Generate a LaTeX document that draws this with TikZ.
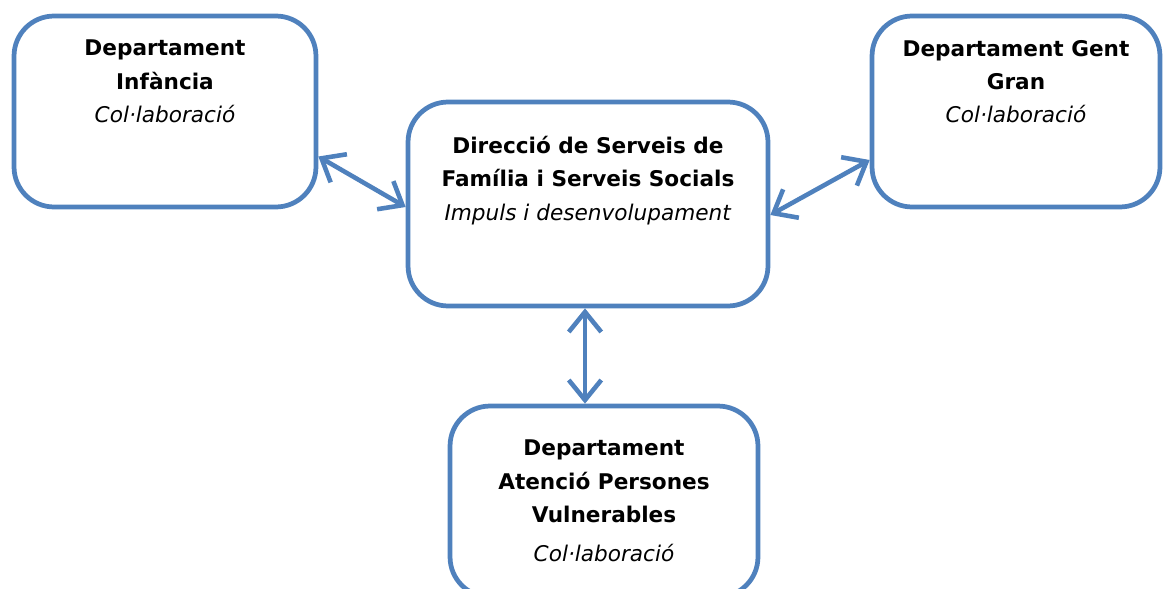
\documentclass[tikz,border=0pt]{standalone}
\usepackage{fontspec}
\setmainfont{DejaVu Sans}
\usetikzlibrary{arrows.meta}
\definecolor{boxblue}{RGB}{79,129,189}

\begin{document}
\begin{tikzpicture}[x=0.02cm, y=-0.02cm,
	deptbox/.style={draw=boxblue, line width=2.7pt, rounded corners=0.8cm, fill=white},
	deptlabel/.style={anchor=north, align=center, inner sep=0pt, font=\fontsize{12.3}{19}\selectfont},
	link/.style={draw=boxblue, line width=2.6pt, {Straight Barb[length=4mm,width=6.5mm]}-{Straight Barb[length=4mm,width=6.5mm]}}]
	\useasboundingbox (0,0) rectangle (1165,588);
	% boxes
	\node[deptbox, minimum width=6.04cm, minimum height=3.82cm] (infancia) at (165,111.5) {};
	\node[deptbox, minimum width=7.2cm, minimum height=4.08cm] (direccio) at (588,204) {};
	\node[deptbox, minimum width=5.76cm, minimum height=3.82cm] (gentgran) at (1016,111.5) {};
	\node[deptbox, minimum width=6.16cm, minimum height=3.82cm] (vulnerables) at (604,501.5) {};
	% texts
	\node[deptlabel] (infancia-text) at ([yshift=-0.52cm]infancia.north) {\textbf{Departament}\\\textbf{Infància}\\\textit{Col·laboració}};
	\node[deptlabel] (direccio-text) at ([yshift=-0.72cm]direccio.north) {\textbf{Direcció de Serveis de}\\\textbf{Família i Serveis Socials}\\\textit{Impuls i desenvolupament}};
	\node[deptlabel] (gentgran-text) at ([yshift=-0.52cm]gentgran.north) {\textbf{Departament Gent}\\\textbf{Gran}\\\textit{Col·laboració}};
	\node[deptlabel] (vulnerables-text) at ([yshift=-0.72cm]vulnerables.north) {\textbf{Departament}\\\textbf{Atenció Persones}\\\textbf{Vulnerables}\\[3pt]\textit{Col·laboració}};
	% connectors
	\draw[link] ([yshift=-0.9cm]infancia.east) -- ([yshift=-0.06cm]direccio.west);
	\draw[link] ([yshift=-0.22cm]direccio.east) -- ([yshift=-0.97cm]gentgran.west);
	\draw[link] ([xshift=-0.06cm]direccio.south) -- ([xshift=-0.06cm]direccio.south |- vulnerables.north);
\end{tikzpicture}
\end{document}
